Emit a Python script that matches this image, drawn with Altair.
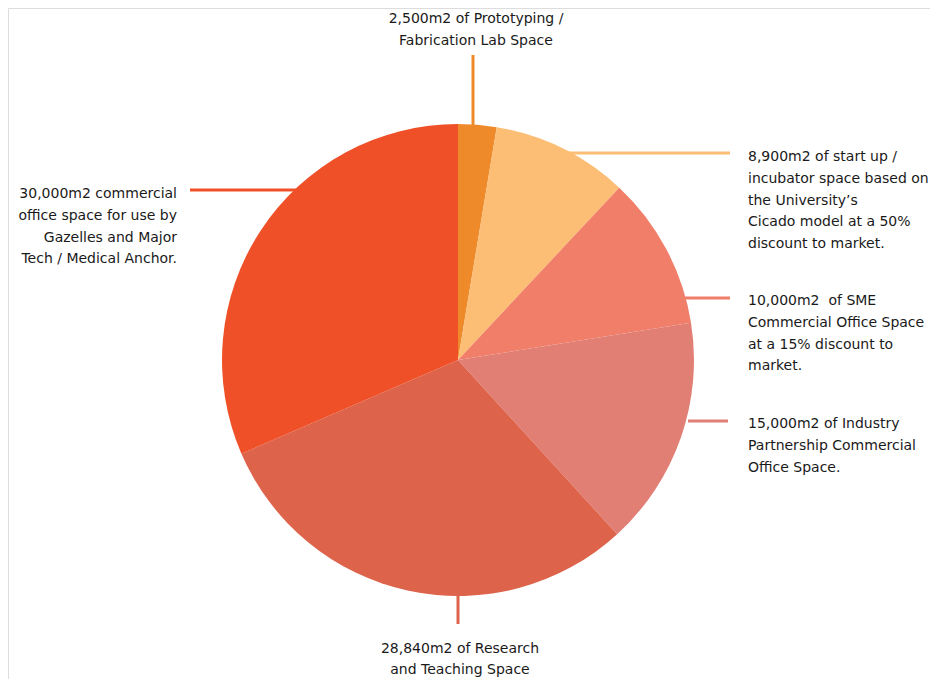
import math
import altair as alt
import pandas as pd

# ---- data ----
areas = [2500, 8900, 10000, 15000, 28840, 30000]
keys = ["proto", "startup", "sme", "industry", "research", "commercial"]
colors = ["#EE8A2A", "#FBBE74", "#F07E68", "#E27F75", "#DD634B", "#EF5028"]
labels = [
    ["2,500m2 of Prototyping /", "Fabrication Lab Space"],
    ["8,900m2 of start up /", "incubator space based on", "the University\u2019s",
     "Cicado model at a 50%", "discount to market."],
    ["10,000m2\u00a0 of SME", "Commercial Office Space", "at a 15% discount to", "market."],
    ["15,000m2 of Industry", "Partnership Commercial", "Office Space."],
    ["28,840m2 of Research", "and Teaching Space"],
    ["30,000m2 commercial", "office space for use by", "Gazelles and Major",
     "Tech / Medical Anchor."],
]

# ---- layout (chart coords = page coords - 8) ----
W, H = 922, 671
OFF = 8
CX, CY, R = 458 - OFF, 360 - OFF, 236
FONT = "DejaVu Sans"
FS = 14
LH = 21.8

df = pd.DataFrame({"key": keys, "area": areas, "order": list(range(len(keys)))})

pie = alt.Chart(df).mark_arc(radius=R).encode(
    theta=alt.Theta("area:Q", stack=True),
    order=alt.Order("order:Q"),
    color=alt.Color("key:N", scale=alt.Scale(domain=keys, range=colors), legend=None),
    x=alt.value(CX),
    y=alt.value(CY),
)

# leader lines: (x1, y1, x2, y2) in page coords
leaders = [
    (473, 55, 473, 130),
    (565, 153, 730, 153),
    (680, 298, 730, 298),
    (688, 421, 728, 421),
    (458, 590, 458, 624),
    (190, 190, 297, 190),
]
ldf = pd.DataFrame({
    "key": keys,
    "x": [l[0] - OFF for l in leaders], "y": [l[1] - OFF for l in leaders],
    "x2": [l[2] - OFF for l in leaders], "y2": [l[3] - OFF for l in leaders],
})
lines = alt.Chart(ldf).mark_rule(strokeWidth=3).encode(
    x=alt.X("x:Q", scale=None), y=alt.Y("y:Q", scale=None),
    x2="x2:Q", y2="y2:Q",
    color=alt.Color("key:N", scale=alt.Scale(domain=keys, range=colors), legend=None),
)

# label anchors: (x, y of first line center, align, line height)
anchors = [
    (476, 19, "center", LH),
    (748, 157, "left", LH),
    (748, 301, "left", LH),
    (748, 424, "left", LH),
    (460, 649, "center", 20.5),
    (177, 194, "right", LH),
]
texts = []
for lab, (ax, ay, al, lh) in zip(labels, anchors):
    texts.append(
        alt.Chart(pd.DataFrame({"k": [0]})).mark_text(
            text=lab, align=al, baseline="middle", font=FONT, fontSize=FS,
            lineHeight=lh, color="#1a1a1a",
        ).encode(x=alt.value(ax - OFF), y=alt.value(ay - OFF))
    )

chart = alt.layer(lines, pie, *texts).properties(
    width=W, height=H, padding=0,
    autosize=alt.AutoSizeParams(type="none"),
).configure_view(strokeWidth=0, stroke="transparent").configure(background="white")

chart.save("out.html", embed_options={"renderer": "svg", "actions": False})
